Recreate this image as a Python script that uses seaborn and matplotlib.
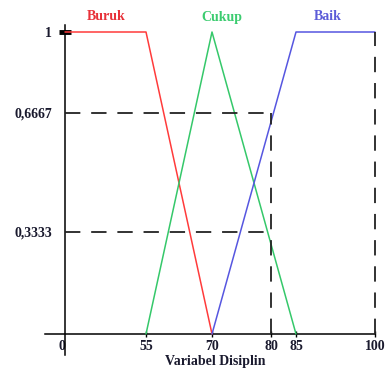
import numpy as np
import pandas as pd
import matplotlib
matplotlib.use('Agg')
import matplotlib.pyplot as plt
import seaborn as sns

# membership functions (Variabel Disiplin)
sets = ['Buruk', 'Cukup', 'Baik']
x_buruk = [0, 55, 70]
y_buruk = [1, 1, 0]
x_cukup = [55, 70, 85]
y_cukup = [0, 1, 0]
x_baik = [70, 85, 100]
y_baik = [0, 1, 1]

x_ticks = [0, 55, 70, 80, 85, 100]
y_ticks = [1 / 3, 2 / 3, 1]
y_labels = ['0,3333', '0,6667', '1']
cut_x = 80
levels = [1 / 3, 2 / 3]
x_max = 100

colors = {'Buruk': '#ff3b3b', 'Cukup': '#35c86a', 'Baik': '#5656e0'}
text_colors = {'Buruk': '#e8323a', 'Cukup': '#3ccc70', 'Baik': '#5c5cd8'}

df = pd.concat([
    pd.DataFrame({'x': x_buruk, 'mu': y_buruk, 'set': 'Buruk'}),
    pd.DataFrame({'x': x_cukup, 'mu': y_cukup, 'set': 'Cukup'}),
    pd.DataFrame({'x': x_baik, 'mu': y_baik, 'set': 'Baik'}),
])

sns.set_style('white')
plt.rcParams['font.family'] = ['Liberation Serif', 'DejaVu Serif']

W, H = 386, 371
fig = plt.figure(figsize=(W / 100, H / 100), dpi=100)
ax = fig.add_axes([0, 0, 1, 1])

# the original drawing is not to scale -> piecewise linear scales (pixel knots)
xd = [-10, 0, 55, 70, 80, 85, 100, 110]
xp = [0, 65, 146, 212, 271, 296, 375, 386]
yd = [-0.1, 0, 1 / 3, 2 / 3, 1, 1.1]
yp = [0, 37, 139, 258, 339, 371]
ax.set_xscale('function', functions=(lambda v: np.interp(v, xd, xp), lambda p: np.interp(p, xp, xd)))
ax.set_yscale('function', functions=(lambda v: np.interp(v, yd, yp), lambda p: np.interp(p, yp, yd)))
ax.set_xlim(xd[0], xd[-1])
ax.set_ylim(yd[0], yd[-1])

sns.lineplot(data=df, x='x', y='mu', hue='set', palette=colors, sort=False,
             estimator=None, lw=1.1, legend=False, ax=ax)

dash = (0, (8.5, 6))
ax.hlines(levels, 0, cut_x, colors='#222222', linestyles=dash, lw=1.3)
ax.vlines(cut_x, 0, max(levels), colors='#222222', linestyles=dash, lw=1.3)
ax.vlines(x_max, 0, 1, colors='#222222', linestyles=dash, lw=1.3)

# axes through the origin
for s in ['top', 'right']:
    ax.spines[s].set_visible(False)
ax.spines['bottom'].set_position(('data', 0))
ax.spines['left'].set_position(('data', 0))
ax.spines['bottom'].set_bounds(np.interp(45, xp, xd), x_max)
ax.spines['left'].set_bounds(np.interp(16, yp, yd), np.interp(346, yp, yd))
for s in ['bottom', 'left']:
    ax.spines[s].set_color('black')
    ax.spines[s].set_linewidth(1.1)
    ax.spines[s].set_zorder(1)

ax.set_xticks(x_ticks)
ax.set_xticklabels([str(v) for v in x_ticks])
ax.set_yticks(y_ticks)
ax.set_yticklabels(y_labels)
ax.tick_params(axis='x', bottom=True, direction='inout', length=5, width=1, pad=2,
               labelsize=10, colors='black')
ax.tick_params(axis='y', left=True, direction='inout', length=9, width=3.5, pad=5,
               labelsize=10, colors='black')
for lab in ax.get_xticklabels() + ax.get_yticklabels():
    lab.set_fontweight('bold')
    lab.set_color('#1a1a2e')
# origin label sits left of the axis, no tick mark there
ax.get_xticklabels()[0].set_horizontalalignment('right')
ax.xaxis.get_major_ticks()[0].tick1line.set_visible(False)
# only the 1 gets a (thick) mark
for t in ax.yaxis.get_major_ticks()[:2]:
    t.tick1line.set_visible(False)

ax.set_xlabel('')
ax.set_ylabel('')
fig.text(215 / W, 1 - 362 / H, 'Variabel Disiplin', ha='center', va='center',
         fontsize=10, fontweight='bold', color='#1a1a2e')

for name, px in zip(sets, [106, 222, 328]):
    fig.text(px / W, 1 - 17 / H, name, ha='center', va='center', fontsize=10,
             fontweight='bold', color=text_colors[name])

fig.savefig('out.png', dpi=100)
